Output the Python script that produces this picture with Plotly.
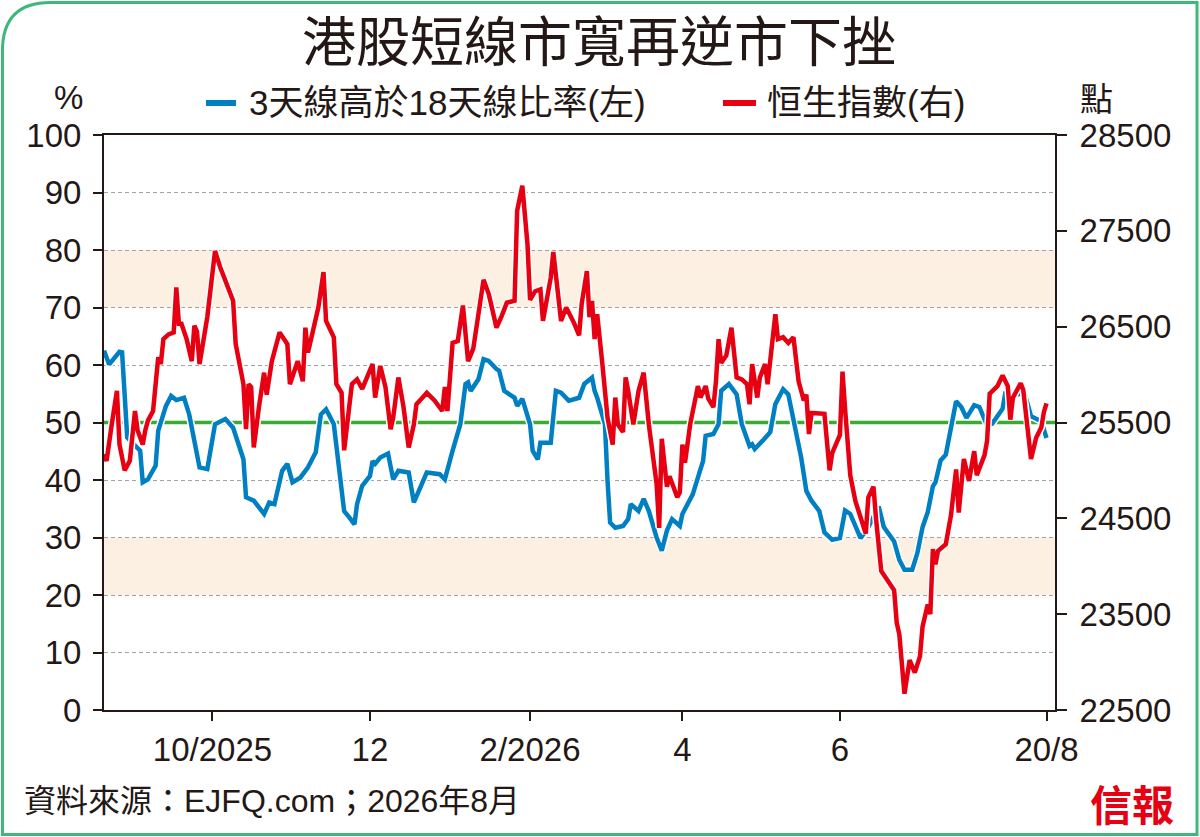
import plotly.graph_objects as go

# ---- data ----
blue_dates = [
    "2025-08-20", "2025-08-22", "2025-08-26", "2025-08-27", "2025-08-29", "2025-09-02", "2025-09-03",
    "2025-09-04", "2025-09-06", "2025-09-09", "2025-09-10", "2025-09-13", "2025-09-15", "2025-09-17",
    "2025-09-20", "2025-09-22", "2025-09-26", "2025-09-29", "2025-10-02", "2025-10-06", "2025-10-09",
    "2025-10-13", "2025-10-14", "2025-10-17", "2025-10-21", "2025-10-23", "2025-10-25", "2025-10-28",
    "2025-10-30", "2025-11-01", "2025-11-04", "2025-11-07", "2025-11-10", "2025-11-12", "2025-11-14",
    "2025-11-17", "2025-11-20", "2025-11-21", "2025-11-23", "2025-11-25", "2025-11-26", "2025-11-28",
    "2025-12-01", "2025-12-02", "2025-12-03", "2025-12-05", "2025-12-08", "2025-12-10", "2025-12-12",
    "2025-12-16", "2025-12-18", "2025-12-20", "2025-12-23", "2025-12-28", "2025-12-30", "2026-01-02",
    "2026-01-05", "2026-01-07", "2026-01-08", "2026-01-09", "2026-01-12", "2026-01-14", "2026-01-16",
    "2026-01-19", "2026-01-20", "2026-01-22", "2026-01-24", "2026-01-26", "2026-01-27", "2026-01-29",
    "2026-02-01", "2026-02-02", "2026-02-04", "2026-02-05", "2026-02-09", "2026-02-11", "2026-02-13",
    "2026-02-16", "2026-02-20", "2026-02-22", "2026-02-25", "2026-02-26", "2026-02-27", "2026-03-02",
    "2026-03-03", "2026-03-04", "2026-03-06", "2026-03-09", "2026-03-11", "2026-03-12", "2026-03-15",
    "2026-03-17", "2026-03-19", "2026-03-22", "2026-03-24", "2026-03-26", "2026-03-28", "2026-03-31",
    "2026-04-01", "2026-04-05", "2026-04-07", "2026-04-09", "2026-04-10", "2026-04-13", "2026-04-15",
    "2026-04-16", "2026-04-19", "2026-04-22", "2026-04-24", "2026-04-27", "2026-04-28", "2026-04-29",
    "2026-05-02", "2026-05-05", "2026-05-07", "2026-05-10", "2026-05-12", "2026-05-15", "2026-05-17",
    "2026-05-19", "2026-05-21", "2026-05-24", "2026-05-26", "2026-05-29", "2026-06-01", "2026-06-03",
    "2026-06-05", "2026-06-09", "2026-06-12", "2026-06-16", "2026-06-18", "2026-06-22", "2026-06-24",
    "2026-06-26", "2026-06-29", "2026-07-01", "2026-07-03", "2026-07-05", "2026-07-07", "2026-07-08",
    "2026-07-10", "2026-07-12", "2026-07-16", "2026-07-18", "2026-07-20", "2026-07-23", "2026-07-25",
    "2026-07-28", "2026-07-30", "2026-08-03", "2026-08-04", "2026-08-07", "2026-08-10", "2026-08-11",
    "2026-08-14", "2026-08-18", "2026-08-20",
]
blue_values = [
    62.5, 60.1, 62.3, 62.2, 47.4, 45.6, 45.1,
    39.6, 40.1, 42.5, 48.6, 52.9, 54.6, 53.9,
    54.3, 51.4, 42.2, 41.9, 49.7, 50.6, 49.1,
    43.6, 37.0, 36.4, 34.1, 36.1, 35.8, 41.6,
    42.8, 39.6, 40.4, 42.2, 44.8, 51.4, 52.3,
    49.7, 38.0, 34.6, 33.5, 32.3, 35.8, 39.0,
    40.7, 43.3, 42.8, 43.9, 44.6, 40.1, 41.6,
    41.3, 36.1, 38.1, 41.3, 41.0, 40.1, 45.1,
    49.7, 56.7, 57.0, 55.5, 57.5, 61.0, 60.7,
    59.3, 59.0, 55.5, 54.9, 54.3, 52.9, 54.1,
    49.7, 45.1, 43.6, 46.5, 46.5, 55.5, 55.2,
    53.8, 54.3, 56.7, 57.8, 55.5, 54.3, 49.7,
    39.9, 32.6, 31.7, 32.0, 33.2, 35.8, 34.6,
    36.7, 34.6, 30.0, 27.7, 31.2, 33.2, 32.0,
    34.1, 37.5, 40.4, 43.3, 47.7, 48.0, 49.7,
    55.5, 56.7, 54.9, 49.7, 45.9, 46.2, 45.4,
    46.8, 48.3, 53.2, 55.8, 54.9, 48.0, 43.9,
    38.1, 36.4, 34.6, 30.9, 29.6, 29.9, 34.7,
    34.1, 29.9, 31.8, 35.4, 31.8, 29.3, 26.1,
    24.4, 24.4, 27.3, 31.8, 34.4, 38.9, 39.6,
    43.4, 44.4, 53.7, 52.7, 50.8, 53.0, 52.7,
    49.5, 49.8, 52.4, 55.0, 54.7, 55.0, 55.9,
    51.1, 50.2, 47.3,
]

hsi_dates = [
    "2025-08-20", "2025-08-21", "2025-08-23", "2025-08-25", "2025-08-26", "2025-08-28", "2025-08-30",
    "2025-09-01", "2025-09-02", "2025-09-04", "2025-09-05", "2025-09-06", "2025-09-08", "2025-09-10",
    "2025-09-11", "2025-09-12", "2025-09-14", "2025-09-16", "2025-09-17", "2025-09-18", "2025-09-19",
    "2025-09-21", "2025-09-23", "2025-09-24", "2025-09-25", "2025-09-26", "2025-09-29", "2025-10-02",
    "2025-10-04", "2025-10-07", "2025-10-09", "2025-10-10", "2025-10-13", "2025-10-14", "2025-10-15",
    "2025-10-16", "2025-10-17", "2025-10-19", "2025-10-21", "2025-10-22", "2025-10-24", "2025-10-27",
    "2025-10-30", "2025-10-31", "2025-11-03", "2025-11-05", "2025-11-06", "2025-11-07", "2025-11-10",
    "2025-11-11", "2025-11-13", "2025-11-14", "2025-11-17", "2025-11-18", "2025-11-20", "2025-11-21",
    "2025-11-24", "2025-11-26", "2025-11-28", "2025-12-02", "2025-12-03", "2025-12-05", "2025-12-07",
    "2025-12-09", "2025-12-10", "2025-12-12", "2025-12-14", "2025-12-16", "2025-12-18", "2025-12-19",
    "2025-12-22", "2025-12-23", "2025-12-26", "2025-12-29", "2025-12-30", "2025-12-31", "2026-01-02",
    "2026-01-04", "2026-01-06", "2026-01-08", "2026-01-10", "2026-01-12", "2026-01-14", "2026-01-16",
    "2026-01-19", "2026-01-21", "2026-01-23", "2026-01-26", "2026-01-27", "2026-01-29", "2026-01-31",
    "2026-02-01", "2026-02-03", "2026-02-05", "2026-02-06", "2026-02-09", "2026-02-10", "2026-02-13",
    "2026-02-15", "2026-02-18", "2026-02-20", "2026-02-21", "2026-02-23", "2026-02-24", "2026-02-25",
    "2026-02-26", "2026-02-27", "2026-03-01", "2026-03-03", "2026-03-05", "2026-03-06", "2026-03-07",
    "2026-03-09", "2026-03-10", "2026-03-11", "2026-03-13", "2026-03-15", "2026-03-17", "2026-03-19",
    "2026-03-22", "2026-03-23", "2026-03-24", "2026-03-26", "2026-03-27", "2026-03-30", "2026-03-31",
    "2026-04-01", "2026-04-02", "2026-04-04", "2026-04-07", "2026-04-08", "2026-04-10", "2026-04-11",
    "2026-04-13", "2026-04-14", "2026-04-15", "2026-04-16", "2026-04-18", "2026-04-20", "2026-04-22",
    "2026-04-24", "2026-04-26", "2026-04-27", "2026-04-28", "2026-04-30", "2026-05-01", "2026-05-03",
    "2026-05-04", "2026-05-07", "2026-05-08", "2026-05-10", "2026-05-12", "2026-05-14", "2026-05-16",
    "2026-05-18", "2026-05-19", "2026-05-20", "2026-05-21", "2026-05-26", "2026-05-28", "2026-05-29",
    "2026-06-01", "2026-06-02", "2026-06-03", "2026-06-05", "2026-06-07", "2026-06-10", "2026-06-11",
    "2026-06-12", "2026-06-14", "2026-06-15", "2026-06-17", "2026-06-22", "2026-06-23", "2026-06-24",
    "2026-06-26", "2026-06-28", "2026-06-30", "2026-07-02", "2026-07-03", "2026-07-05", "2026-07-06",
    "2026-07-07", "2026-07-08", "2026-07-09", "2026-07-12", "2026-07-14", "2026-07-16", "2026-07-17",
    "2026-07-19", "2026-07-21", "2026-07-23", "2026-07-24", "2026-07-27", "2026-07-28", "2026-07-29",
    "2026-08-01", "2026-08-03", "2026-08-05", "2026-08-06", "2026-08-07", "2026-08-10", "2026-08-11",
    "2026-08-13", "2026-08-14", "2026-08-16", "2026-08-18", "2026-08-19", "2026-08-20",
]
hsi_values = [
    25170, 25100, 25480, 25830, 25270, 25000, 25100,
    25620, 25420, 25270, 25420, 25520, 25620, 26180,
    26110, 26370, 26420, 26440, 26910, 26530, 26530,
    26370, 26140, 26510, 26450, 26110, 26600, 27290,
    27120, 26910, 26770, 26320, 25900, 25430, 25900,
    25870, 25240, 25660, 26020, 25790, 26140, 26440,
    26320, 25900, 26140, 25930, 26490, 26230, 26600,
    26700, 27070, 26560, 26390, 25900, 25810, 25210,
    25900, 25950, 25850, 26110, 25760, 26090, 25870,
    25430, 25550, 25970, 25660, 25240, 25480, 25690,
    25780, 25810, 25730, 25620, 25870, 25620, 26330,
    26350, 26720, 26140, 26270, 26600, 26990, 26840,
    26490, 26610, 26750, 26770, 27710, 27970, 27360,
    26780, 26870, 26890, 26560, 27010, 27280, 26560,
    26700, 26540, 26410, 26740, 27080, 26600, 26770,
    26370, 26630, 26110, 25550, 25270, 25760, 25480,
    25400, 25970, 25830, 25480, 25830, 26020, 25480,
    24860, 24400, 25330, 24830, 24940, 24720, 24770,
    25270, 25080, 25480, 25880, 25760, 25880, 25750,
    25660, 25930, 26370, 26120, 26200, 26490, 25970,
    25950, 25900, 25690, 26110, 25760, 25970, 26110,
    25900, 26630, 26370, 26390, 26330, 26390, 25930,
    25730, 25790, 25380, 25600, 25590, 25000, 25180,
    25370, 26030, 25640, 24950, 24680, 24450, 24340,
    24720, 24830, 24490, 23950, 23750, 23410, 23290,
    22670, 23020, 22890, 23060, 23370, 23600, 23500,
    24180, 24020, 24160, 24230, 24530, 25010, 24560,
    25120, 24890, 25200, 24950, 25160, 25310, 25800,
    25880, 25990, 25880, 25530, 25760, 25910, 25840,
    25410, 25120, 25340, 25450, 25610, 25700,
]

x_range = ["2025-08-20", "2026-08-23 07:00"]
x_tick_dates = ["2025-10-01", "2025-12-01", "2026-02-01", "2026-04-01", "2026-06-01", "2026-08-20"]
x_tick_text = ["10/2025", "12", "2/2026", "4", "6", "20/8"]
left_ticks = [0, 10, 20, 30, 40, 50, 60, 70, 80, 90, 100]
right_ticks = [22500, 23500, 24500, 25500, 26500, 27500, 28500]
shade_bands = [(20, 30), (70, 80)]
mid_level = 50

title_text = "港股短線市寬再逆市下挫"
blue_name = "3天線高於18天線比率(左)"
red_name = "恒生指數(右)"
source_text = "資料來源：EJFQ.com；2026年8月"

# ---- styling ----
W, H = 1200, 837
ML, MR, MT, MB = 104, 145, 135, 127
INK = "#231815"
BLUE = "#0080C3"
RED = "#E60012"
GREEN = "#3AAA35"
FRAME = "#3DB878"
PEACH = "#FCF0E3"
NUM_FONT = "Liberation Sans, Arial, sans-serif"
CJK_FONT = "Liberation Sans, Noto Sans CJK TC, sans-serif"


def px(x):
    """pixel x -> paper x"""
    return (x - ML) / (W - ML - MR)


def py(y):
    """pixel y (from top) -> paper y"""
    return (H - MB - y) / (H - MT - MB)


fig = go.Figure()

# 50% reference line (as a trace so it sits above the dashed grid)
fig.add_trace(go.Scatter(x=x_range, y=[mid_level, mid_level], mode="lines",
                         line=dict(color=GREEN, width=3.5), hoverinfo="skip", showlegend=False))

# Index line (right axis) with a white halo
fig.add_trace(go.Scatter(x=hsi_dates, y=hsi_values, yaxis="y2", mode="lines",
                         line=dict(color="white", width=7.5), hoverinfo="skip", showlegend=False))
fig.add_trace(go.Scatter(x=hsi_dates, y=hsi_values, yaxis="y2", mode="lines", name=red_name,
                         line=dict(color=RED, width=4.5), showlegend=False))

# Breadth line (left axis) with a white halo
fig.add_trace(go.Scatter(x=blue_dates, y=blue_values, mode="lines",
                         line=dict(color="white", width=7.5), hoverinfo="skip", showlegend=False))
fig.add_trace(go.Scatter(x=blue_dates, y=blue_values, mode="lines", name=blue_name,
                         line=dict(color=BLUE, width=4.5), showlegend=False))

# shaded zones
for lo, hi in shade_bands:
    fig.add_shape(type="rect", xref="paper", yref="y", x0=0, x1=1, y0=lo, y1=hi,
                  fillcolor=PEACH, line_width=0, layer="below")

# green frame, rounded at the top-left corner
l, t, r, b, rad = 2.5, 2.5, 1197.0, 834.5, 48
frame_path = (f"M {px(l + rad)},{py(t)} L {px(r)},{py(t)} L {px(r)},{py(b)} "
              f"L {px(l)},{py(b)} L {px(l)},{py(t + rad)} Q {px(l)},{py(t)} {px(l + rad)},{py(t)} Z")
fig.add_shape(type="path", xref="paper", yref="paper", path=frame_path,
              line=dict(color=FRAME, width=3), layer="above")

# legend swatches
fig.add_shape(type="line", xref="paper", yref="paper", x0=px(206), x1=px(236), y0=py(103), y1=py(103),
              line=dict(color=BLUE, width=6))
fig.add_shape(type="line", xref="paper", yref="paper", x0=px(723), x1=px(756), y0=py(103), y1=py(103),
              line=dict(color=RED, width=6))

annotations = [
    dict(text=title_text, x=px(599), y=py(39), font=dict(size=54, family="Noto Sans CJK TC", color=INK),
         xanchor="center", yanchor="middle"),
    dict(text=blue_name, x=px(247), y=py(103), font=dict(size=35, family=CJK_FONT, color=INK),
         xanchor="left", yanchor="middle"),
    dict(text=red_name, x=px(765), y=py(103), font=dict(size=35, family=CJK_FONT, color=INK),
         xanchor="left", yanchor="middle"),
    dict(text="%", x=px(68), y=py(98), font=dict(size=33, family=NUM_FONT, color=INK),
         xanchor="center", yanchor="middle"),
    dict(text="點", x=px(1096), y=py(97), font=dict(size=33, family="Noto Sans CJK TC", color=INK),
         xanchor="center", yanchor="middle"),
    dict(text=source_text, x=px(22), y=py(801), font=dict(size=32, family=CJK_FONT, color=INK),
         xanchor="left", yanchor="middle"),
    dict(text="<b>信報</b>", x=px(1176), y=py(802), font=dict(size=42, family="Noto Sans CJK TC", color=RED),
         xanchor="right", yanchor="middle"),
]
for a in annotations:
    a.update(xref="paper", yref="paper", showarrow=False)

fig.update_layout(
    template="none",
    width=W, height=H,
    margin=dict(l=ML, r=MR, t=MT, b=MB, pad=0),
    paper_bgcolor="white",
    plot_bgcolor="white",
    showlegend=False,
    annotations=annotations,
    xaxis=dict(
        type="date",
        range=x_range,
        tickvals=x_tick_dates, ticktext=x_tick_text,
        ticks="outside", ticklen=9, tickwidth=2, tickcolor=INK,
        showline=True, linecolor=INK, linewidth=2, mirror=True,
        showgrid=False, zeroline=False, automargin=False,
        tickfont=dict(size=33, family=NUM_FONT, color=INK),
    ),
    yaxis=dict(
        range=[0, 100], tickvals=left_ticks,
        ticks="outside", ticklen=9, tickwidth=2, tickcolor=INK,
        showline=True, linecolor=INK, linewidth=2,
        showgrid=True, gridcolor="#a3a3a3", gridwidth=1, griddash="4px,3px",
        zeroline=False, automargin=False, ticklabelstandoff=5,
        tickfont=dict(size=33, family=NUM_FONT, color=INK),
    ),
    yaxis2=dict(
        overlaying="y", side="right",
        range=[22500, 28500], tickvals=right_ticks, tickformat="d",
        ticks="outside", ticklen=10, tickwidth=2, tickcolor=INK,
        showline=True, linecolor=INK, linewidth=2,
        showgrid=False, zeroline=False, automargin=False, ticklabelstandoff=6,
        tickfont=dict(size=33, family=NUM_FONT, color=INK),
    ),
)

# the page's default body margin would push the 1200x837 figure off the window
fig.write_html("out.html", config={"displayModeBar": False},
               post_script="document.body.style.margin = '0';")
